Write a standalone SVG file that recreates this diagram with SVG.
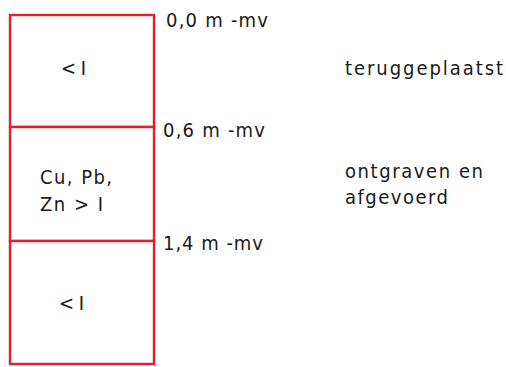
<svg xmlns="http://www.w3.org/2000/svg" width="506" height="367" viewBox="0 0 506 367">
<style>
.layer{fill:#fff;stroke:#e3202c;stroke-width:2.4}
.t{font-family:"DejaVu Sans Condensed","DejaVu Sans",sans-serif;font-stretch:condensed;font-size:20px;fill:#1a1a1a}
</style>
<rect width="506" height="367" fill="#fff"/>
<g id="layer-top">
<rect class="layer" x="10" y="15" width="144" height="112"/>
<text class="t" x="61" y="75" textLength="25" lengthAdjust="spacing">&lt; I</text>
</g>
<g id="layer-mid">
<rect class="layer" x="10" y="127" width="144" height="114"/>
<text class="t" x="40" y="184" textLength="72" lengthAdjust="spacing">Cu, Pb,</text>
<text class="t" x="40" y="211" textLength="63" lengthAdjust="spacing">Zn &gt; I</text>
</g>
<g id="layer-bottom">
<rect class="layer" x="10" y="241" width="144" height="123"/>
<text class="t" x="59" y="310" textLength="25" lengthAdjust="spacing">&lt; I</text>
</g>
<g id="depth-labels">
<text class="t" x="166" y="27" textLength="102" lengthAdjust="spacing">0,0 m -mv</text>
<text class="t" x="163" y="137" textLength="102" lengthAdjust="spacing">0,6 m -mv</text>
<text class="t" x="163" y="250" textLength="100" lengthAdjust="spacing">1,4 m -mv</text>
</g>
<g id="notes">
<text class="t" x="345" y="75" textLength="158" lengthAdjust="spacing">teruggeplaatst</text>
<text class="t" x="345" y="178" textLength="138" lengthAdjust="spacing">ontgraven en</text>
<text class="t" x="345" y="204" textLength="103" lengthAdjust="spacing">afgevoerd</text>
</g>
</svg>
